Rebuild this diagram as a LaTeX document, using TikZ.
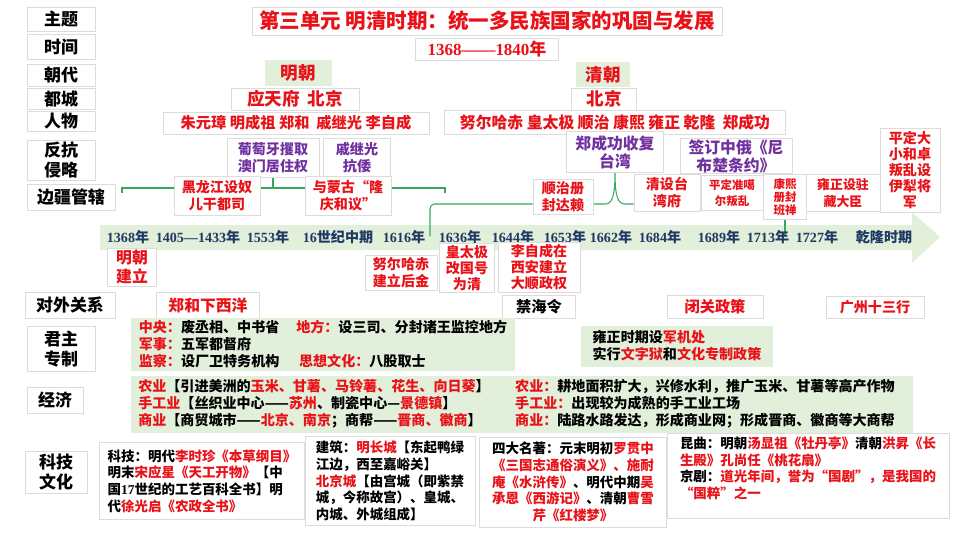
\documentclass[tikz,border=0pt]{standalone}
\usepackage{fontspec}
\setmainfont{Noto Sans CJK SC}
\newfontfamily\numfont{Liberation Serif}
\usepackage{tikz}
\usetikzlibrary{positioning,calc,backgrounds}
\definecolor{hired}{RGB}{232,18,24}
\definecolor{kpurple}{RGB}{112,48,160}
\definecolor{tlnavy}{RGB}{31,56,100}
\definecolor{softgreen}{RGB}{226,239,218}
\definecolor{linegreen}{RGB}{52,168,96}
\definecolor{edgegray}{RGB}{220,220,220}
\newcommand{\rd}[1]{\textcolor{hired}{#1}}
\newcommand{\fs}[2]{\fontsize{#1}{#2}\selectfont\bfseries}
\newcommand{\yr}[1]{{\numfont\bfseries #1}}
\tikzset{
    sz/.style 2 args={minimum width=#1*0.03cm, minimum height=#2*0.03cm},
    cell/.style={
        rectangle,
        draw=edgegray,
        fill=white,
        line width=0.6pt,
        inner sep=1pt,
        align=center,
        font=\fs{12}{14.5}
    },
    rowlab/.style={cell, font=\fs{14.5}{17.5}},
    redcell/.style={cell, text=hired},
    purplecell/.style={cell, text=kpurple},
    greencell/.style={cell, draw=none, fill=softgreen, align=left},
    textcell/.style={cell, align=left, font=\fs{11.5}{14.2}},
    yearlab/.style={text=tlnavy, font=\fs{12}{13}, inner sep=0pt},
    link/.style={draw=linegreen, line width=0.9pt}
}

\begin{document}
\begin{tikzpicture}[x=0.03cm, y=-0.03cm]
    \useasboundingbox (0,0) rectangle (960,540);

    % row headings
    \node (zhuti) [rowlab, sz={68}{24}] at (61,19) {主题};
    \node (shijian) [rowlab, sz={68}{25}] at (61,47) {时间};
    \node (chaodai) [rowlab, sz={68}{22}] at (61,75) {朝代};
    \node (ducheng) [rowlab, sz={68}{21}] at (61,99) {都城};
    \node (renwu) [rowlab, sz={68}{20}] at (61,121) {人物};
    \node (fankang) [rowlab, sz={68}{40}] at (61,160) {反抗\\侵略};
    \node (bianjiang) [rowlab, sz={88}{26}] at (71,197) {边疆管辖};
    \node (duiwai) [rowlab, sz={90}{26}] at (70,305) {对外关系};
    \node (junzhu) [rowlab, sz={68}{45}] at (61,349) {君主\\专制};
    \node (jingji) [rowlab, sz={56}{26}] at (55,400) {经济};
    \node (keji) [rowlab, sz={62}{42}] at (56,472) {科技\\文化};

    \node (title) [redcell, sz={470}{28}, font=\fs{17.5}{20}] at (487,21) {第三单元 明清时期：统一多民族国家的巩固与发展};
    \node (span) [redcell, sz={143}{22}, font=\fs{14.5}{16}] at (487,49) {\yr{1368——1840}年};

    % dynasties, capitals, people
    \node (ming) [redcell, draw=none, fill=softgreen, sz={67}{26}, font=\fs{15}{17}] at (298,73) {明朝};
    \node (qing) [redcell, draw=none, fill=softgreen, sz={54}{25}, font=\fs{15}{17}] at (603,75) {清朝};
    \node (mingcap) [redcell, sz={128}{22}, font=\fs{15}{17}] at (295,99) {应天府\ \ 北京};
    \node (qingcap) [redcell, sz={65}{22}, font=\fs{15}{17}] at (604,99) {北京};
    \node (mingppl) [redcell, sz={266}{22}, font=\fs{13}{15}] at (296,123) {朱元璋 明成祖 郑和\ \ 戚继光 李自成};
    \node (qingppl) [redcell, sz={341}{24}, font=\fs{13.5}{15}] at (615,122) {努尔哈赤 皇太极 顺治 康熙 雍正 乾隆\ \ 郑成功};

    \node (putao) [purplecell, sz={92}{39}] at (273,158) {葡萄牙攫取\\澳门居住权};
    \node (qijg) [purplecell, sz={67}{39}] at (357,158) {戚继光\\抗倭};
    \node (zcg) [purplecell, sz={97}{41}, font=\fs{13.5}{15.5}] at (615,152) {郑成功收复\\台湾};
    \node (nbc) [purplecell, sz={112}{33}, font=\fs{13.5}{15.5}] at (736,156) {签订中俄《尼\\布楚条约》};

    % frontier
    \node (heilong) [redcell, sz={86}{39}] at (217,196) {黑龙江设奴\\儿干都司};
    \node (menggu) [redcell, sz={86}{39}] at (348,196) {与蒙古“隆\\庆和议”};
    \node (shunzhi) [redcell, sz={60}{35}] at (563,197) {顺治册\\封达赖};
    \node (qingtai) [redcell, sz={66}{37}] at (667,193) {清设台\\湾府};
    \node (zhunge) [redcell, sz={62}{35}, font=\fs{9.8}{13}] at (732,193) {平定准噶\\尔叛乱};
    \node (kangxi) [redcell, sz={43}{45}, font=\fs{9.8}{11.4}] at (785,197) {康熙\\册封\\班禅};
    \node (yongzheng) [redcell, sz={74}{37}, font=\fs{11}{14}] at (843,193) {雍正设驻\\藏大臣};
    \node (pingding) [redcell, sz={60}{84}, font=\fs{12}{13.5}] at (910,170) {平定大\\小和卓\\叛乱设\\伊犁将\\军};

    % timeline
    \node (y1368) [yearlab] at (128,237) {\yr{1368}年};
    \node (y1405) [yearlab] at (198,237) {\yr{1405—1433}年};
    \node (y1553) [yearlab] at (268,237) {\yr{1553}年};
    \node (y16c) [yearlab] at (338,237) {\yr{16}世纪中期};
    \node (y1616) [yearlab] at (404,237) {\yr{1616}年};
    \node (y1636) [yearlab] at (460,237) {\yr{1636}年};
    \node (y1644) [yearlab] at (513,237) {\yr{1644}年};
    \node (y1653) [yearlab] at (565,237) {\yr{1653}年};
    \node (y1662) [yearlab] at (611,237) {\yr{1662}年};
    \node (y1684) [yearlab] at (660,237) {\yr{1684}年};
    \node (y1689) [yearlab] at (719,237) {\yr{1689}年};
    \node (y1713) [yearlab] at (768,237) {\yr{1713}年};
    \node (y1727) [yearlab] at (817,237) {\yr{1727}年};
    \node (yql) [yearlab] at (884,237) {乾隆时期};

    \node (mingjl) [redcell, sz={49}{38}, font=\fs{13.5}{17}] at (132,267) {明朝\\建立};
    \node (nurhachi) [redcell, sz={72}{35}] at (401,273) {努尔哈赤\\建立后金};
    \node (huangtj) [redcell, sz={55}{49}, font=\fs{12}{13.8}] at (467,268) {皇太极\\改国号\\为清};
    \node (lizc) [redcell, sz={82}{50}, font=\fs{12}{13.8}] at (539,267) {李自成在\\西安建立\\大顺政权};

    % foreign relations
    \node (zhenghe) [redcell, sz={103}{26}, font=\fs{13.5}{16}] at (208,305) {郑和下西洋};
    \node (jinhai) [cell, sz={73}{23}, font=\fs{13}{15}] at (539,307) {禁海令};
    \node (biguan) [redcell, sz={96}{23}, font=\fs{13}{15}] at (715,307) {闭关政策};
    \node (guangzhou) [redcell, sz={98}{22}] at (875,307) {广州十三行};

    % autocracy and economy
    \node (mingrule) [greencell, sz={384}{53}] at (323,344) {\rd{中央：}废丞相、中书省\hspace{1.2em}\rd{地方：}设三司、分封诸王监控地方\\\rd{军事：}五军都督府\\\rd{监察：}设厂卫特务机构\hspace{1.4em}\rd{思想文化：}八股取士};
    \node (qingrule) [greencell, sz={192}{41}] at (677,346) {雍正时期设\rd{军机处}\\实行\rd{文字狱}和\rd{文化专制政策}};
    \node (mingecon) [greencell, sz={366}{57}] at (314,404) {\rd{农业}【引进美洲的\rd{玉米、甘薯、马铃薯、花生、向日葵}】\\\rd{手工业}【丝织业中心——\rd{苏州}、制瓷中心—\rd{景德镇}】\\\rd{商业}【商贸城市——\rd{北京、南京}；商帮——\rd{晋商、徽商}】};
    \node (qingecon) [greencell, sz={416}{57}] at (705,404) {\rd{农业：}耕地面积扩大，兴修水利，推广玉米、甘薯等高产作物\\\rd{手工业：}出现较为成熟的手工业工场\\\rd{商业：}陆路水路发达，形成商业网；形成晋商、徽商等大商帮};

    % science and culture
    \node (sci) [textcell, sz={205}{77}] at (202,481) {科技：明代\rd{李时珍《本草纲目》}\\明末\rd{宋应星《天工开物》}【中\\国\yr{17}世纪的工艺百科全书】明\\代\rd{徐光启《农政全书》}};
    \node (arch) [textcell, sz={170}{89}] at (390,481) {建筑：\rd{明长城}【东起鸭绿\\江边，西至嘉峪关】\\\rd{北京城}【由宫城（即紫禁\\城，今称故宫）、皇城、\\内城、外城组成】};
    \node (novel) [textcell, align=center, sz={187}{90}] at (573,482) {四大名著：元末明初\rd{罗贯中}\\\rd{《三国志通俗演义》、施耐}\\\rd{庵《水浒传》}、明代中期\rd{吴}\\\rd{承恩《西游记》}、清朝\rd{曹雪}\\\rd{芹《红楼梦》}};
    \node (opera) [textcell, sz={282}{85}] at (808,476) {昆曲：明朝\rd{汤显祖《牡丹亭》}清朝\rd{洪昇《长}\\\rd{生殿》孔尚任《桃花扇》}\\京剧：\rd{道光年间，誉为“国剧”，是我国的}\\\rd{“国粹”之一}\\~};

    \coordinate (mleft) at (122,193);
    \coordinate (mright) at (445,193);
    \coordinate (mline) at (266,188);
    \coordinate (t1616) at (430,236);
    \coordinate (qline) at (430,204);
    \coordinate (t1713) at (791,236);

    \begin{scope}[on background layer]
        \fill[softgreen] (100,225) -- (912,225) -- (912,212) -- (940,237) -- (912,263) -- (912,250) -- (100,250) -- cycle;
        \draw[link] (mleft) -- (mleft |- mline) -- (mright |- mline) -- (mright);
        \draw[link] (putao.south) -- (putao.south |- mline);
        \draw[link, rounded corners=4pt] (t1616) -- (qline) -- (qline -| shunzhi.west);
        \draw[link] (qline -| shunzhi.east) -- (605,204) .. controls (612,204) and (615,197) .. (zcg.south)
            .. controls (615,197) and (618,204) .. (625,204) -- (qline -| qingtai.west);
        \draw[link] (kangxi.south) -- (kangxi.south |- t1713);
    \end{scope}
\end{tikzpicture}
\end{document}
